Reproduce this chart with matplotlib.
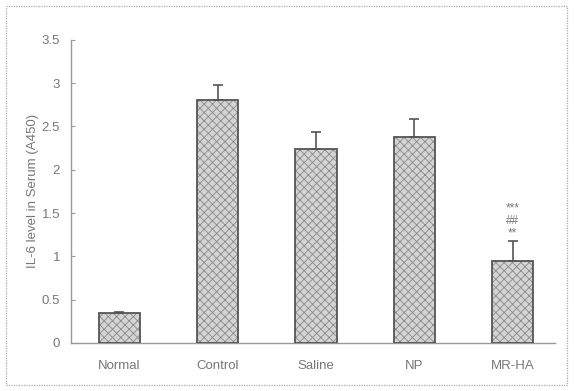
import matplotlib
matplotlib.use("Agg")
import matplotlib.pyplot as plt
import matplotlib.patches as patches
import numpy as np

# data
groups = ["Normal", "Control", "Saline", "NP", "MR-HA"]
il6_level = [0.35, 2.80, 2.24, 2.38, 0.95]
il6_err = [0.01, 0.18, 0.20, 0.21, 0.23]
yticks = [0, 0.5, 1, 1.5, 2, 2.5, 3, 3.5]
ytick_labels = ["0", "0.5", "1", "1.5", "2", "2.5", "3", "3.5"]
sig_marks = ["***", "##", "**"]

plt.rcParams['font.family'] = ['Liberation Sans', 'DejaVu Sans']
TEXT = '#777777'

fig = plt.figure(figsize=(5.74, 3.91), dpi=100)
ax = fig.add_axes([0.124, 0.123, 0.843, 0.775])

x = np.arange(len(groups))
width = 0.42

# hatched fill, then an outline on top
plt.rcParams['hatch.linewidth'] = 0.6
ax.bar(x, il6_level, width, color='#d4d4d4', edgecolor='#8a8a8a',
       hatch='xxxx', linewidth=0, zorder=2)
ax.bar(x, il6_level, width, fill=False, edgecolor='#555555',
       linewidth=1.3, zorder=3)

# upper error bars only
ax.errorbar(x, il6_level, yerr=[np.zeros(len(x)), il6_err], fmt='none',
            ecolor='#555555', elinewidth=1.2, capsize=3.5, capthick=1.2,
            zorder=4)

# significance marks above MR-HA
top = il6_level[-1] + il6_err[-1]
for k, mark in enumerate(sig_marks[::-1]):
    ax.text(x[-1], top + 0.02 + k * 0.14, mark, ha='center', va='bottom',
            fontsize=8.5, color=TEXT)

ax.set_xlim(-0.49, 4.43)
ax.set_ylim(0, 3.5)
ax.set_yticks(yticks)
ax.set_yticklabels(ytick_labels)
ax.set_xticks(x)
ax.set_xticklabels(groups)
ax.tick_params(axis='y', direction='in', length=3, color='#999999',
               labelsize=9.5, labelcolor=TEXT, pad=8)
ax.tick_params(axis='x', length=0, labelsize=9.5, labelcolor=TEXT, pad=12)
ax.set_ylabel('IL-6 level in Serum (A450)', fontsize=9.5, color=TEXT)
ax.yaxis.set_label_coords(-0.066, 0.5)

for side in ['top', 'right']:
    ax.spines[side].set_visible(False)
for side in ['left', 'bottom']:
    ax.spines[side].set_color('#999999')
    ax.spines[side].set_linestyle((0, (1, 1)))
    ax.spines[side].set_linewidth(1.0)

# dotted frame round the whole picture
frame = patches.Rectangle((0.01, 0.015), 0.978, 0.97, transform=fig.transFigure,
                          fill=False, edgecolor='#aaaaaa', linewidth=0.9,
                          linestyle=(0, (1, 1)))
fig.patches.append(frame)

fig.savefig('out.png', dpi=100)
